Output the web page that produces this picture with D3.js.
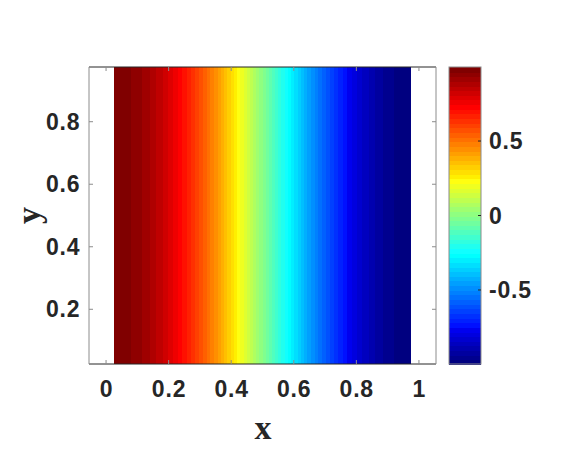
<!DOCTYPE html>
<html><head><meta charset="utf-8">
<script src="https://cdn.jsdelivr.net/npm/d3@7"></script>
<style>body{margin:0;background:#fff}</style>
</head><body>
<svg id="c" width="566" height="454"></svg>
<script>
// Grid column centres (x) and cell values u(x) (constant in y)
const xCenters = [0.025,0.075,0.125,0.175,0.225,0.275,0.325,0.375,0.425,0.475,0.525,0.575,0.625,0.675,0.725,0.775,0.825,0.875,0.925,0.975];
const colValues = [0.9969,0.9724,0.9239,0.8526,0.7604,0.6494,0.5225,0.3827,0.2334,0.0785,-0.0785,-0.2334,-0.3827,-0.5225,-0.6494,-0.7604,-0.8526,-0.9239,-0.9724,-0.9969];
const yRange = [0.025, 0.975];
const xTicks = [0,0.2,0.4,0.6,0.8,1];
const yTicks = [0.2,0.4,0.6,0.8];
const cbTicks = [-0.5,0,0.5];

const svg = d3.select("#c");
const L=89, R=436, T=67, B=364;
const x = d3.scaleLinear().domain([-0.0545,1.0545]).range([L,R]);
const y = d3.scaleLinear().domain(yRange).range([B,T]);
const vmin = d3.min(colValues), vmax = d3.max(colValues);

// MATLAB-style jet(64) colormap
const NC = 64, nq = 16;
const u = [];
for (let i=1;i<=nq;i++) u.push(i/nq);
for (let i=0;i<nq-1;i++) u.push(1);
for (let i=nq;i>=1;i--) u.push(i/nq);
function jetIdx(k){ // k: 1..64
  const gi = k - 8, ri = k - 24, bi = k + 7;
  const get = i => (i>=1 && i<=u.length) ? u[i-1] : 0;
  return d3.rgb(get(ri)*255, get(gi)*255, get(bi)*255).toString();
}
const color = v => {
  let k = Math.floor((v-vmin)/(vmax-vmin)*NC)+1;
  k = Math.max(1, Math.min(NC, k));
  return jetIdx(k);
};

// heat map (interpolated shading between column centres)
const strips = [];
const SUB = 24;
for (let i=0;i<xCenters.length-1;i++){
  for (let k=0;k<SUB;k++){
    const f0=k/SUB, f1=(k+1)/SUB, fm=(k+0.5)/SUB;
    strips.push({
      x0: xCenters[i]+(xCenters[i+1]-xCenters[i])*f0,
      x1: xCenters[i]+(xCenters[i+1]-xCenters[i])*f1,
      v: colValues[i]+(colValues[i+1]-colValues[i])*fm
    });
  }
}
svg.append("g").attr("shape-rendering","crispEdges").selectAll("rect").data(strips).join("rect")
  .attr("x", d=>x(d.x0)).attr("width", (d,i)=> i===strips.length-1 ? x(d.x1)-x(d.x0) : x(d.x1)-x(d.x0)+1)
  .attr("y", y(yRange[1])).attr("height", y(yRange[0])-y(yRange[1]))
  .attr("fill", d=>color(d.v));

// axes box
const dark="#262626", grayc="#8c8c8c";
svg.append("line").attr("x1",L).attr("x2",R).attr("y1",B).attr("y2",B).attr("stroke",dark);
svg.append("line").attr("x1",L).attr("x2",R).attr("y1",T).attr("y2",T).attr("stroke",dark);
svg.append("line").attr("x1",L).attr("x2",L).attr("y1",T).attr("y2",B).attr("stroke",grayc);
svg.append("line").attr("x1",R).attr("x2",R).attr("y1",T).attr("y2",B).attr("stroke",grayc);

const font = "'Liberation Sans', Arial, Helvetica, sans-serif";
const LS = 0.8, FS = 23;
xTicks.forEach(t=>{
  svg.append("line").attr("x1",x(t)).attr("x2",x(t)).attr("y1",B).attr("y2",B-4).attr("stroke",grayc);
  svg.append("line").attr("x1",x(t)).attr("x2",x(t)).attr("y1",T).attr("y2",T+4).attr("stroke",grayc);
  svg.append("text").attr("x",x(t)+LS/2).attr("y",397).attr("text-anchor","middle").attr("letter-spacing",LS)
    .attr("font-family",font).attr("font-weight","bold").attr("font-size",FS).attr("fill",dark).text(d3.format("")(t));
});
yTicks.forEach(t=>{
  svg.append("line").attr("x1",L).attr("x2",L+4).attr("y1",y(t)).attr("y2",y(t)).attr("stroke",grayc);
  svg.append("line").attr("x1",R).attr("x2",R-4).attr("y1",y(t)).attr("y2",y(t)).attr("stroke",grayc);
  svg.append("text").attr("x",79.5+LS).attr("y",y(t)+8).attr("text-anchor","end").attr("letter-spacing",LS)
    .attr("font-family",font).attr("font-weight","bold").attr("font-size",FS).attr("fill",dark).text(t);
});

// axis labels
svg.append("text").attr("x",263).attr("y",439).attr("text-anchor","middle")
  .attr("font-family","'Liberation Serif', 'Times New Roman', serif").attr("font-weight","bold").attr("font-size",34).attr("fill",dark).text("x");
svg.append("text").attr("transform","translate(40,"+((T+B)/2)+") rotate(-90)").attr("text-anchor","middle")
  .attr("font-family","'Liberation Serif', 'Times New Roman', serif").attr("font-weight","bold").attr("font-size",34).attr("fill",dark).text("y");

// colorbar
const CL=449, CR=481;
const cy = d3.scaleLinear().domain([vmin,vmax]).range([B,T]);
const cbSteps = d3.range(0,NC).map(i=>vmin+(vmax-vmin)*i/NC);
const dv = (vmax-vmin)/NC;
svg.append("g").attr("shape-rendering","crispEdges").selectAll("rect").data(cbSteps).join("rect")
  .attr("x",CL).attr("width",CR-CL)
  .attr("y",d=>cy(d+dv)).attr("height",d=>cy(d)-cy(d+dv)+1)
  .attr("fill",d=>color(d+dv/2));
svg.append("rect").attr("x",CL).attr("y",T).attr("width",CR-CL).attr("height",B-T)
  .attr("fill","none").attr("stroke",grayc);
cbTicks.forEach(t=>{
  svg.append("line").attr("x1",CR).attr("x2",CR-3).attr("y1",cy(t)).attr("y2",cy(t)).attr("stroke",dark);
  svg.append("text").attr("x",489).attr("y",cy(t)+8).attr("text-anchor","start").attr("letter-spacing",LS)
    .attr("font-family",font).attr("font-weight","bold").attr("font-size",FS).attr("fill",dark).text(t);
});
</script>
</body></html>
